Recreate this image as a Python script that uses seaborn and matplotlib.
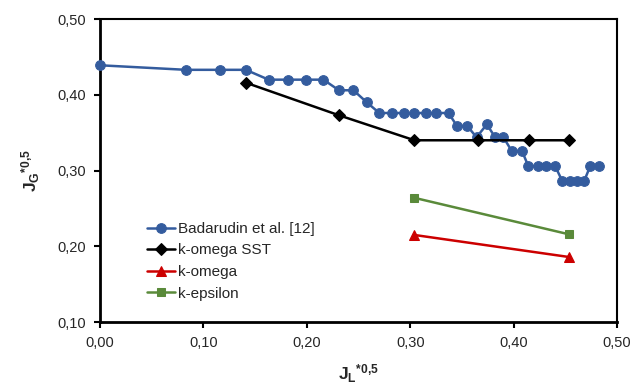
import pandas as pd
import matplotlib.pyplot as plt
import seaborn as sns
from matplotlib.ticker import FuncFormatter, MultipleLocator

sns.set_style("white")
plt.rcParams['font.family'] = ['Liberation Sans', 'DejaVu Sans']
plt.rcParams['mathtext.fontset'] = 'custom'
plt.rcParams['mathtext.rm'] = 'Liberation Sans'
plt.rcParams['mathtext.bf'] = 'Liberation Sans:bold'
plt.rcParams['mathtext.it'] = 'Liberation Sans:italic'

# experimental data (Badarudin et al.)
bad_x = [0.0, 0.083, 0.116, 0.141, 0.163, 0.182, 0.199, 0.216, 0.231, 0.245,
         0.258, 0.270, 0.282, 0.294, 0.304, 0.315, 0.325, 0.337, 0.345, 0.355,
         0.364, 0.374, 0.382, 0.390, 0.398, 0.408, 0.414, 0.423, 0.431, 0.440,
         0.447, 0.454, 0.461, 0.468, 0.474, 0.482]
bad_y = [0.439, 0.433, 0.433, 0.433, 0.420, 0.420, 0.420, 0.420, 0.406, 0.406,
         0.390, 0.376, 0.376, 0.376, 0.376, 0.376, 0.376, 0.376, 0.359, 0.359,
         0.344, 0.361, 0.344, 0.344, 0.326, 0.326, 0.306, 0.306, 0.306, 0.306,
         0.286, 0.286, 0.286, 0.286, 0.306, 0.306]

# simulations
sst_x = [0.141, 0.231, 0.304, 0.365, 0.415, 0.453]
sst_y = [0.416, 0.373, 0.340, 0.340, 0.340, 0.340]
kom_x = [0.304, 0.453]
kom_y = [0.215, 0.186]
keps_x = [0.304, 0.453]
keps_y = [0.264, 0.216]

series = [
    ("Badarudin et al. [12]", bad_x, bad_y, "#345C9E", "o", 7),
    ("k-omega SST", sst_x, sst_y, "black", "D", 6),
    ("k-omega", kom_x, kom_y, "#CC0000", "^", 7),
    ("k-epsilon", keps_x, keps_y, "#5A8A3A", "s", 6),
]

fig = plt.figure(figsize=(6.33, 3.89), dpi=100)
ax = fig.add_axes([0.158, 0.172, 0.817, 0.779])

for name, xs, ys, col, mk, ms in series:
    df = pd.DataFrame({"x": xs, "y": ys})
    sns.lineplot(data=df, x="x", y="y", ax=ax, sort=False, color=col,
                 marker=mk, markersize=ms, markeredgecolor=col,
                 linewidth=1.8, label=name, clip_on=False, zorder=3)

ax.set_xlim(0, 0.5)
ax.set_ylim(0.1, 0.5)
ax.xaxis.set_major_locator(MultipleLocator(0.1))
ax.yaxis.set_major_locator(MultipleLocator(0.1))
fmt = FuncFormatter(lambda v, p: f"{v:.2f}".replace(".", ","))
ax.xaxis.set_major_formatter(fmt)
ax.yaxis.set_major_formatter(fmt)
ax.tick_params(axis="both", direction="out", length=4, width=1.5,
               labelsize=10.5, color="black", bottom=True, left=True, pad=6)

for s in ax.spines.values():
    s.set_color("black")
    s.set_linewidth(1.5)
ax.spines["left"].set_linewidth(2)
ax.spines["bottom"].set_linewidth(2)

ax.set_xlabel(r"$\mathbf{J_L}^{\mathbf{*0{,}5}}$", fontsize=12.5, labelpad=9)
ax.set_ylabel(r"$\mathbf{J_G}^{\mathbf{*0{,}5}}$", fontsize=12.5, labelpad=11)

ax.legend(loc="lower left", bbox_to_anchor=(0.065, 0.025), frameon=False,
          fontsize=11, handlelength=1.8, handletextpad=0.2, labelspacing=0.5)

fig.savefig("out.png", dpi=100)
